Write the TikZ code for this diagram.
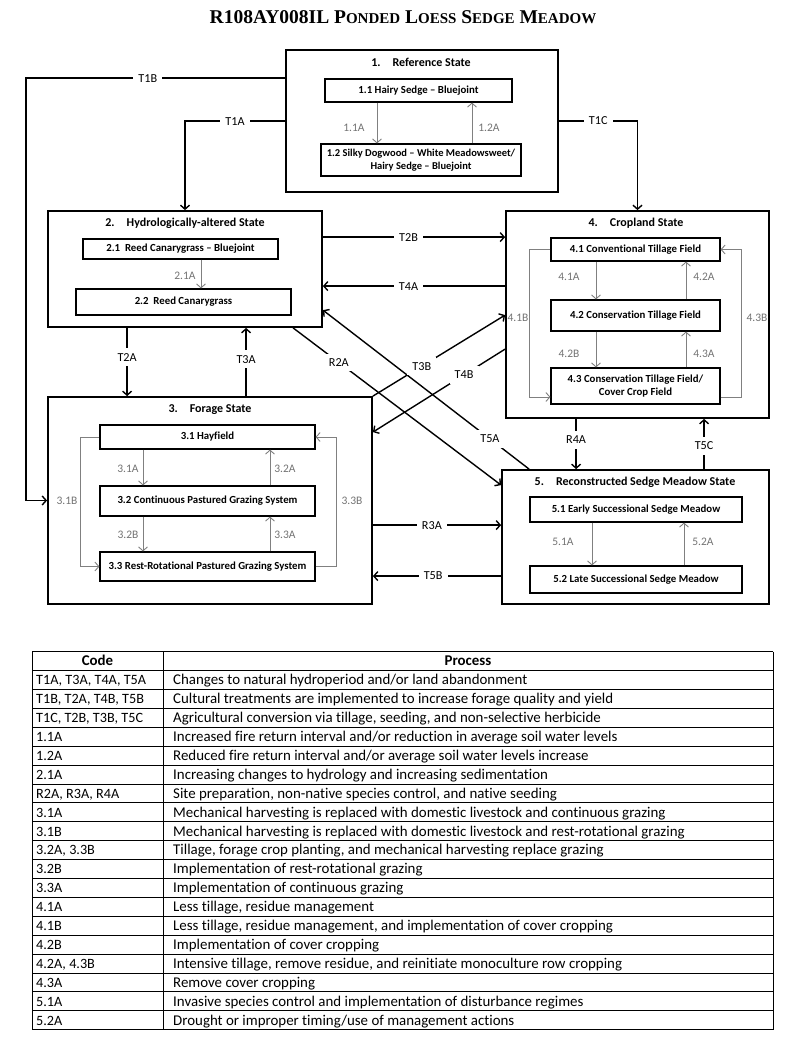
\documentclass[tikz,border=0pt]{standalone}
\usepackage{fontspec}
\setmainfont{Carlito}[Ligatures={TeX,NoCommon}]
\newfontfamily\titlefont{Liberation Serif}
\usetikzlibrary{arrows.meta}
\newcommand{\titlesc}[1]{{\fontsize{15}{15}\selectfont #1}}

\begin{document}
\begin{tikzpicture}[x=1pt,y=-1pt,
	>={Straight Barb[length=4pt,width=9pt]},
	state/.style={draw,line width=1.8pt,inner sep=0pt},
	sub/.style={draw,line width=1.1pt,inner sep=0pt,align=center,font=\fontsize{10.8}{13}\selectfont\bfseries},
	stitle/.style={font=\fontsize{12}{14}\selectfont\bfseries},
	trans/.style={line width=1.4pt},
	tlbl/.style={fill=white,inner sep=5pt,font=\fontsize{12.2}{14}\selectfont},
	inner/.style={black!50,line width=0.9pt},
	ilbl/.style={black!55,font=\fontsize{11.5}{13}\selectfont},
	cell/.style={inner sep=0pt,font=\fontsize{14.9}{16}\selectfont},
	tline/.style={line width=0.9pt}]
\useasboundingbox (0,0) rectangle (800,1041);
\node[font=\titlefont\bfseries\fontsize{19.5}{22}\selectfont] (title) at (403,17)
	{R108AY008IL P\titlesc{ONDED} L\titlesc{OESS} S\titlesc{EDGE} M\titlesc{EADOW}};

% reference state
\node[state,minimum width=272pt,minimum height=142pt] (s1) at (422,121) {};
\node[stitle] (t1) at (421,62) {1.\hspace{12pt}Reference State};
\node[sub,minimum width=187pt,minimum height=23pt] (n11) at (418.5,90.5) {1.1 Hairy Sedge – Bluejoint};
\node[sub,minimum width=200pt,minimum height=32pt,font=\fontsize{10.5}{13}\selectfont\bfseries] (n12) at (421,160) {1.2 Silky Dogwood – White Meadowsweet/\\Hairy Sedge – Bluejoint};
\coordinate (x1l) at (377,0);
\coordinate (x1r) at (472,0);
\draw[inner,->] (n11.south -| x1l) -- (n12.north -| x1l);
\draw[inner,->] (n12.north -| x1r) -- (n11.south -| x1r);
\node[ilbl] (l11a) at (354,128) {1.1A};
\node[ilbl] (l12a) at (489,128) {1.2A};

% hydrologically-altered state
\node[state,minimum width=274pt,minimum height=116pt] (s2) at (185,269) {};
\node[stitle] (t2) at (185,223) {2.\hspace{12pt}Hydrologically-altered State};
\node[sub,minimum width=195pt,minimum height=20pt] (n21) at (180.5,249) {2.1\ \ Reed Canarygrass – Bluejoint};
\node[sub,minimum width=215pt,minimum height=26pt] (n22) at (183.5,302) {2.2\ \ Reed Canarygrass};
\coordinate (x2) at (201,0);
\draw[inner,->] (n21.south -| x2) -- (n22.north -| x2);
\node[ilbl] (l21a) at (185,276) {2.1A};

% forage state
\node[state,minimum width=324pt,minimum height=207pt] (s3) at (210,500.5) {};
\node[stitle] (t3) at (210,410) {3.\hspace{12pt}Forage State};
\node[sub,minimum width=215pt,minimum height=24pt] (n31) at (207.5,437) {3.1 Hayfield};
\node[sub,minimum width=215pt,minimum height=30pt] (n32) at (207.5,501) {3.2 Continuous Pastured Grazing System};
\node[sub,minimum width=215pt,minimum height=29pt] (n33) at (207.5,566.5) {3.3 Rest-Rotational Pastured Grazing System};
\coordinate (x3l) at (143,0);
\coordinate (x3r) at (270,0);
\draw[inner,->] (n31.south -| x3l) -- (n32.north -| x3l);
\draw[inner,->] (n32.north -| x3r) -- (n31.south -| x3r);
\draw[inner,->] (n32.south -| x3l) -- (n33.north -| x3l);
\draw[inner,->] (n33.north -| x3r) -- (n32.south -| x3r);
\draw[inner,->] (n31.west) -- ++(-19,0) |- (n33.west);
\draw[inner,->] (n33.east) -- ++(21,0) |- (n31.east);
\node[ilbl] (l31a) at (128,469) {3.1A};
\node[ilbl] (l32a) at (285,469) {3.2A};
\node[ilbl] (l32b) at (128,535) {3.2B};
\node[ilbl] (l33a) at (285,535) {3.3A};
\node[ilbl] (l31b) at (67,501) {3.1B};
\node[ilbl] (l33b) at (352,501) {3.3B};

% cropland state
\node[state,minimum width=263pt,minimum height=207pt] (s4) at (637.5,314.5) {};
\node[stitle] (t4) at (636,223) {4.\hspace{12pt}Cropland State};
\node[sub,minimum width=169pt,minimum height=23pt] (n41) at (635.5,249.5) {4.1 Conventional Tillage Field};
\node[sub,minimum width=169pt,minimum height=31pt] (n42) at (635.5,315.5) {4.2 Conservation Tillage Field};
\node[sub,minimum width=169pt,minimum height=36pt] (n43) at (635.5,386) {4.3 Conservation Tillage Field/\\Cover Crop Field};
\coordinate (x4l) at (596,0);
\coordinate (x4r) at (686,0);
\draw[inner,->] (n41.south -| x4l) -- (n42.north -| x4l);
\draw[inner,->] (n42.north -| x4r) -- (n41.south -| x4r);
\draw[inner,->] (n42.south -| x4l) -- (n43.north -| x4l);
\draw[inner,->] (n43.north -| x4r) -- (n42.south -| x4r);
\draw[inner,->] (n41.west) -- ++(-21,0) |- ([yshift=-11pt]n43.west);
\draw[inner,->] ([yshift=-11pt]n43.east) -- ++(21,0) |- (n41.east);
\node[ilbl] (l41a) at (569,277) {4.1A};
\node[ilbl] (l42a) at (704,277) {4.2A};
\node[ilbl] (l42b) at (569,354) {4.2B};
\node[ilbl] (l43a) at (704,354) {4.3A};
\node[ilbl] (l41b) at (518,318) {4.1B};
\node[ilbl] (l43b) at (757,318) {4.3B};

% reconstructed sedge meadow state
\node[state,minimum width=267pt,minimum height=134pt] (s5) at (635.5,537) {};
\node[stitle] (t5) at (635,482) {5.\hspace{12pt}Reconstructed Sedge Meadow State};
\node[sub,minimum width=212pt,minimum height=25pt] (n51) at (636,509.5) {5.1 Early Successional Sedge Meadow};
\node[sub,minimum width=212pt,minimum height=27pt] (n52) at (636,579.5) {5.2 Late Successional Sedge Meadow};
\coordinate (x5l) at (592,0);
\coordinate (x5r) at (684,0);
\draw[inner,->] (n51.south -| x5l) -- (n52.north -| x5l);
\draw[inner,->] (n52.north -| x5r) -- (n51.south -| x5r);
\node[ilbl] (l51a) at (563,542) {5.1A};
\node[ilbl] (l52a) at (703,542) {5.2A};

% transitions between states
\draw[trans,->] ([yshift=-29pt]s1.north west) -- ++(-259,0) node[tlbl,pos=0.53]{T1B} |- (s3.west);
\draw[trans,->] ([yshift=-72pt]s1.north west) -| node[tlbl,pos=0.25]{T1A} (s2.north);
\draw[trans,->] (s1.east) -| node[tlbl,pos=0.25]{T1C} (s4.north);
\coordinate (p2b) at ([yshift=-27pt]s2.north east);
\coordinate (p4a) at ([yshift=-76pt]s4.north west);
\coordinate (p2a) at ([xshift=80pt]s2.south west);
\coordinate (p3a) at ([xshift=199pt]s3.north west);
\coordinate (p3r) at ([yshift=-129pt]s3.north east);
\coordinate (p5b) at ([yshift=-107pt]s5.north west);
\coordinate (p4r) at ([xshift=71pt]s4.south west);
\coordinate (p5c) at ([xshift=203pt]s5.north west);
\draw[trans,->] (p2b) -- node[tlbl,pos=0.47]{T2B} (p2b -| s4.west);
\draw[trans,->] (p4a) -- node[tlbl,pos=0.53]{T4A} (p4a -| s2.east);
\draw[trans,->] (p2a) -- node[tlbl,pos=0.43]{T2A} (p2a |- s3.north);
\draw[trans,->] (p3a) -- node[tlbl,pos=0.54]{T3A} (p3a |- s2.south);
\draw[trans,->] ([xshift=246pt]s2.south west) -- node[tlbl,pos=0.22]{R2A} ([yshift=-16pt]s5.north west);
\draw[trans,->] ([xshift=28pt]s5.north west) -- node[tlbl,pos=0.19]{T5A} ([yshift=-100pt]s2.north east);
\draw[trans,->] (s3.north east) -- node[tlbl,pos=0.37]{T3B} ([yshift=-105pt]s4.north west);
\draw[trans,->] ([yshift=-139pt]s4.north west) -- node[tlbl,pos=0.31]{T4B} ([yshift=-36pt]s3.north east);
\draw[trans,->] (p3r) -- node[tlbl,pos=0.46]{R3A} (p3r -| s5.west);
\draw[trans,->] (p5b) -- node[tlbl,pos=0.53]{T5B} (p5b -| s3.east);
\draw[trans,->] (p4r) -- node[tlbl,pos=0.42]{R4A} (p4r |- s5.north);
\draw[trans,->] (p5c) -- node[tlbl,pos=0.46]{T5C} (p5c |- s4.south);

% table
\foreach \k in {0,...,20}
	\draw[tline] (32,{651.7+18.9*\k}) -- (773,{651.7+18.9*\k});
\foreach \xx in {32,163,773}
	\draw[tline] (\xx,651.7) -- (\xx,1029.7);
\node[cell,font=\fontsize{14.9}{16}\selectfont\bfseries,anchor=base] (hcode) at (97.5,665.8) {Code};
\node[cell,font=\fontsize{14.9}{16}\selectfont\bfseries,anchor=base] (hproc) at (468,665.8) {Process};
\foreach \c/\p [count=\i] in {
	{T1A, T3A, T4A, T5A}/{Changes to natural hydroperiod and/or land abandonment},
	{T1B, T2A, T4B, T5B}/{Cultural treatments are implemented to increase forage quality and yield},
	{T1C, T2B, T3B, T5C}/{Agricultural conversion via tillage, seeding, and non-selective herbicide},
	{1.1A}/{Increased fire return interval and/or reduction in average soil water levels},
	{1.2A}/{Reduced fire return interval and/or average soil water levels increase},
	{2.1A}/{Increasing changes to hydrology and increasing sedimentation},
	{R2A, R3A, R4A}/{Site preparation, non-native species control, and native seeding},
	{3.1A}/{Mechanical harvesting is replaced with domestic livestock and continuous grazing},
	{3.1B}/{Mechanical harvesting is replaced with domestic livestock and rest-rotational grazing},
	{3.2A, 3.3B}/{Tillage, forage crop planting, and mechanical harvesting replace grazing},
	{3.2B}/{Implementation of rest-rotational grazing},
	{3.3A}/{Implementation of continuous grazing},
	{4.1A}/{Less tillage, residue management},
	{4.1B}/{Less tillage, residue management, and implementation of cover cropping},
	{4.2B}/{Implementation of cover cropping},
	{4.2A, 4.3B}/{Intensive tillage, remove residue, and reinitiate monoculture row cropping},
	{4.3A}/{Remove cover cropping},
	{5.1A}/{Invasive species control and implementation of disturbance regimes},
	{5.2A}/{Drought or improper timing/use of management actions}} {
	\node[cell,anchor=base west,font=\fontsize{14.2}{16}\selectfont] (code\i) at (36,{651.7+18.9*(\i+0.5)+4.8}) {\c};
	\node[cell,anchor=base west] (proc\i) at (173,{651.7+18.9*(\i+0.5)+4.8}) {\p};
}
\end{tikzpicture}
\end{document}
